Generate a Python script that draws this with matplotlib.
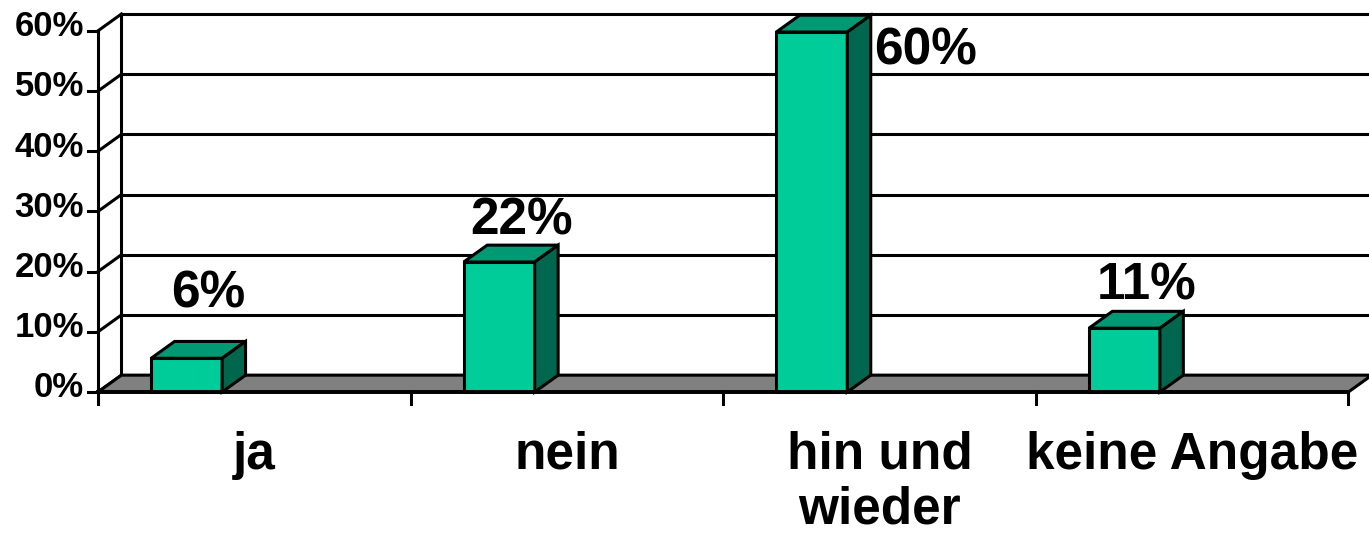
import matplotlib
matplotlib.use("Agg")
import matplotlib.pyplot as plt
from matplotlib.patches import Polygon

plt.rcParams['font.family'] = ['Liberation Sans', 'DejaVu Sans']
plt.rcParams['font.weight'] = 'bold'

categories = ["ja", "nein", "hin und\nwieder", "keine Angabe"]
values = [5.6, 21.6, 59.8, 10.6]
yticks = [0, 10, 20, 30, 40, 50, 60]

FRONT = '#00CC99'
TOP = '#009973'
SIDE = '#00664D'
FLOOR = '#808080'
LW = 2.2

# depth of the pseudo 3d box (category units, percent units)
dx, dy = 0.075, 2.8
bar_left, bar_w = 0.17, 0.227
label_lift = [5.7, 1.7, 0, 1.9]

fig = plt.figure(figsize=(13.69, 5.36), dpi=100)
ax = fig.add_axes([0, 0, 1, 1])
ax.set_xlim(-0.3135, 4.0659)
ax.set_ylim(-23.92, 65.12)
ax.axis('off')

n = len(categories)
ymax = yticks[-1]

# back wall gridlines + side wall diagonals
for k in yticks:
    ax.plot([dx, n + dx], [k + dy, k + dy], color='black', lw=LW, zorder=1,
            solid_capstyle='butt', clip_on=False)
    ax.plot([0, dx], [k, k + dy], color='black', lw=LW, zorder=1)
ax.plot([dx, dx], [dy, ymax + dy], color='black', lw=LW, zorder=1)

# floor
ax.add_patch(Polygon([(0, 0), (n, 0), (n + dx, dy), (dx, dy)], closed=True,
                     facecolor=FLOOR, edgecolor='black', lw=LW, zorder=2))

# bars
for i, v in enumerate(values):
    x0 = i + bar_left
    x1 = x0 + bar_w
    ax.add_patch(Polygon([(x0, 0), (x1, 0), (x1, v), (x0, v)],
                         facecolor=FRONT, edgecolor='black', lw=LW, zorder=3,
                         joinstyle='miter'))
    ax.add_patch(Polygon([(x0, v), (x1, v), (x1 + dx, v + dy), (x0 + dx, v + dy)],
                         facecolor=TOP, edgecolor='black', lw=LW, zorder=3,
                         joinstyle='miter'))
    ax.add_patch(Polygon([(x1, 0), (x1 + dx, dy), (x1 + dx, v + dy), (x1, v)],
                         facecolor=SIDE, edgecolor='black', lw=LW, zorder=3,
                         joinstyle='miter'))
    txt = f"{v:.0f}%"
    if v + dy + 8 > ymax + dy:
        # no room above the tallest bar: label goes to its right
        ax.text(x1 + dx + 0.01, v - 3.2, txt, ha='left', va='center',
                fontsize=37, fontweight='bold', zorder=5)
    else:
        ax.text((x0 + x1) / 2 + 0.07, v + dy + label_lift[i], txt,
                ha='center', va='baseline', fontsize=37, fontweight='bold',
                zorder=5)

# front axes
ax.plot([0, 0], [0, ymax], color='black', lw=LW, zorder=4)
ax.plot([0, n], [0, 0], color='black', lw=LW + 0.6, zorder=4)
for k in yticks:
    ax.plot([-0.032, 0], [k, k], color='black', lw=LW, zorder=4)
    ax.text(-0.045, k + 0.7, f"{k}%", ha='right', va='center',
            fontsize=25, fontweight='bold')
for i in range(n + 1):
    ax.plot([i, i], [0, -2.0], color='black', lw=LW, zorder=4)

for i, c in enumerate(categories):
    ax.text(i + 0.5, -6.4, c, ha='center', va='top', fontsize=37,
            fontweight='bold', linespacing=1.15)

fig.savefig("out.png", dpi=100)
